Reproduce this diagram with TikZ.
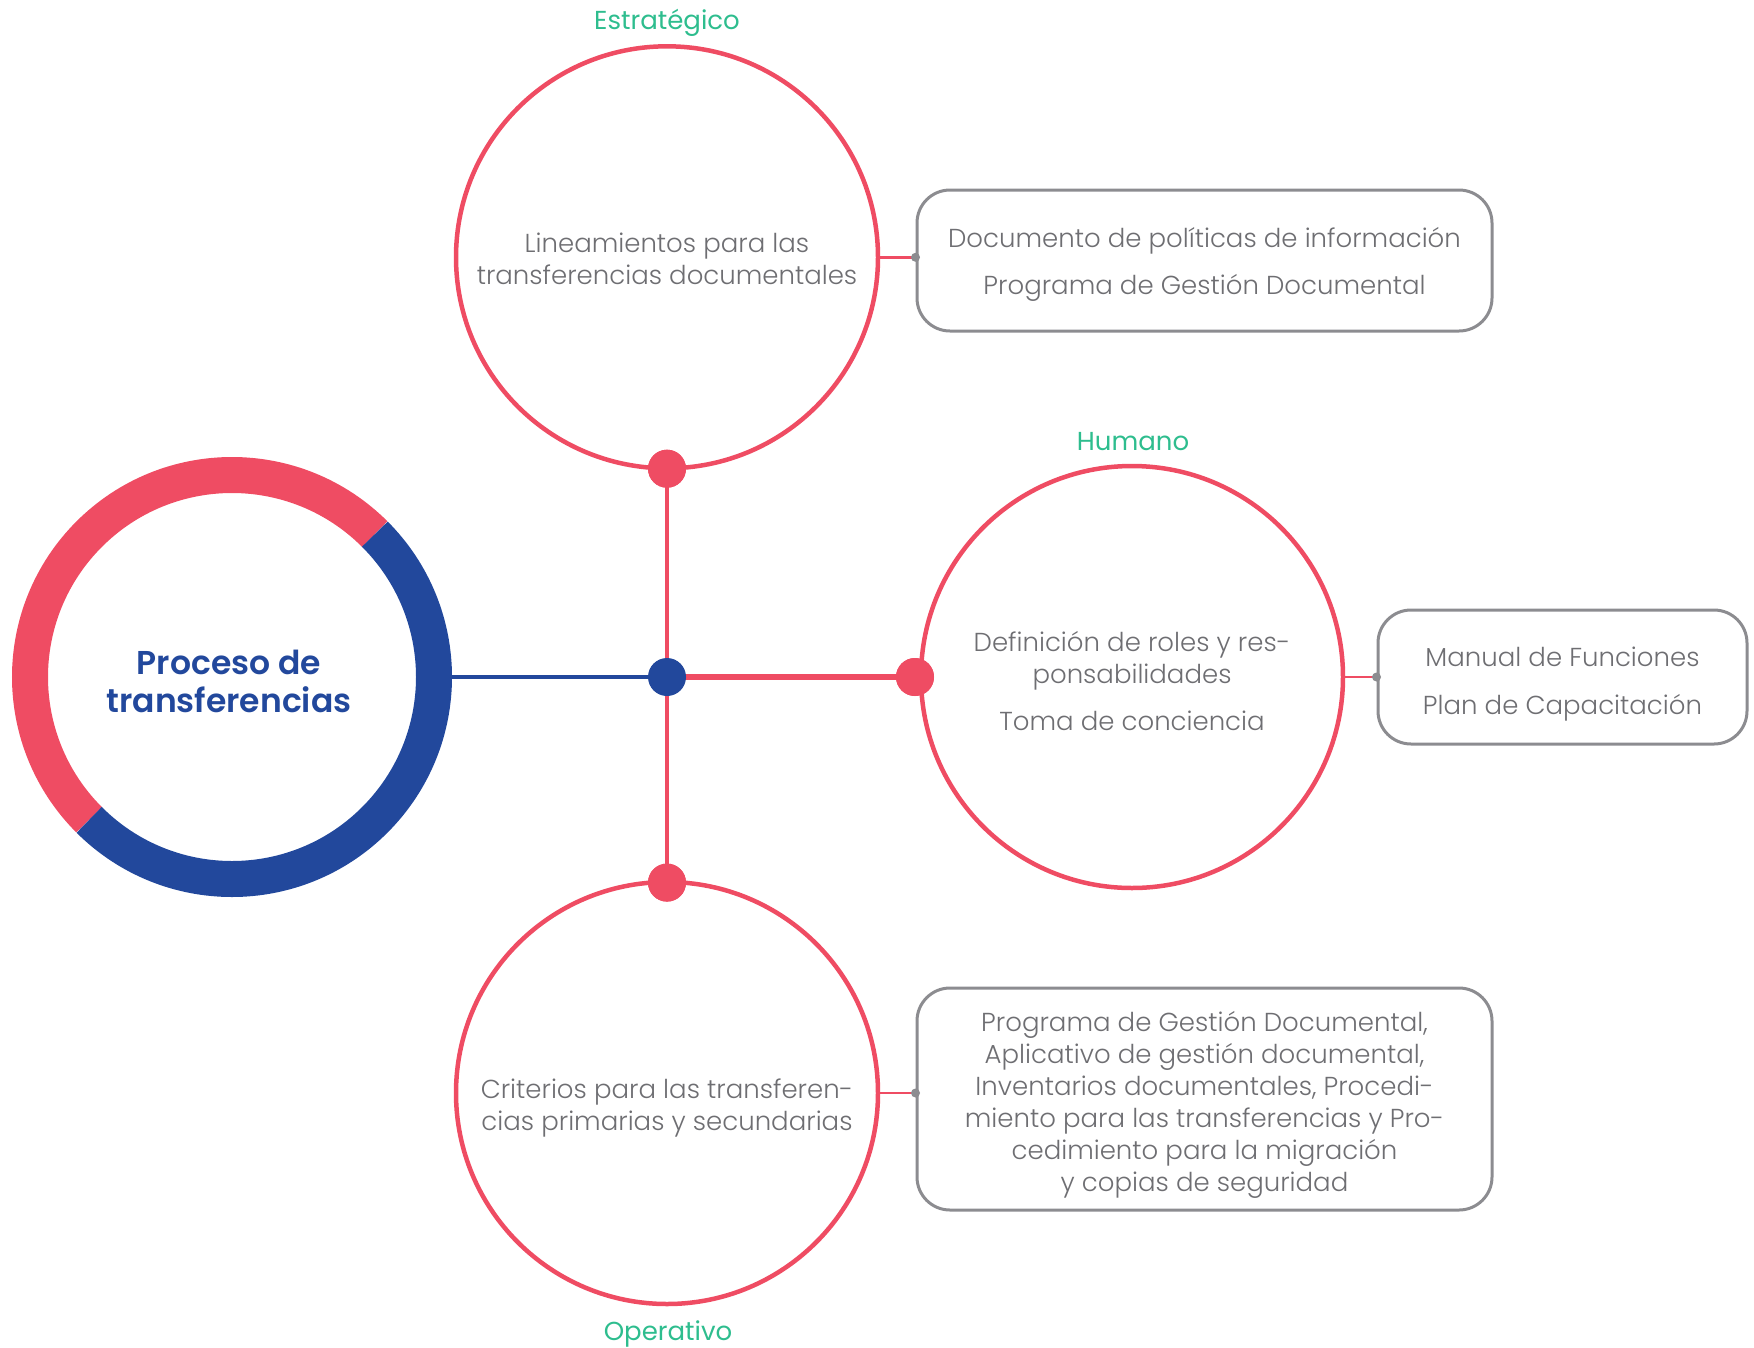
\documentclass[tikz,border=0pt]{standalone}
\usepackage{fontspec}
\setmainfont{Poppins}[UprightFont=* Light, BoldFont=* SemiBold]
\newfontfamily\tagfont{Poppins}
\begin{document}
\definecolor{ringred}{HTML}{EF4C63}
\definecolor{coreblue}{HTML}{22489C}
\definecolor{tagGreen}{HTML}{2EBD8E}
\definecolor{bodygray}{HTML}{6E6E72}
\definecolor{boxgray}{HTML}{8C8C90}
\begin{tikzpicture}[x=1pt,y=-1pt,
  areacircle/.style={circle,draw=ringred,line width=4.5pt,minimum size=422pt,inner sep=0pt},
  bodytext/.style={text=bodygray,align=center,font=\fontsize{26}{32}\selectfont,inner sep=0pt},
  tagtext/.style={text=tagGreen,font=\tagfont\fontsize{26}{30}\selectfont,inner sep=0pt},
  infobox/.style={draw=boxgray,line width=3pt,rounded corners=33pt,inner sep=0pt},
  reddot/.style={circle,fill=ringred,minimum size=38pt,inner sep=0pt},
  graydot/.style={circle,fill=boxgray,minimum size=9pt,inner sep=0pt},
  redlink/.style={draw=ringred,line width=3.4pt},
  boxlink/.style={draw=ringred,line width=2.5pt}]
\useasboundingbox (0,0) rectangle (1754,1347);

% central ring
\node[circle,minimum size=440pt,inner sep=0pt] (core) at (232,677) {};
\draw[ringred,line width=36pt] (core.center) ++(45:202pt) arc[start angle=45,end angle=225,radius=202pt];
\draw[coreblue,line width=36pt] (core.center) ++(225:202pt) arc[start angle=225,end angle=405,radius=202pt];
\node[text=coreblue,align=center,font=\bfseries\fontsize{33}{38}\selectfont] (title) at (229,681) {Proceso de\\transferencias};

% three areas
\node[areacircle] (strat) at (667,257.3) {};
\node[areacircle] (human) at (1132,677) {};
\node[areacircle] (oper) at (667,1093) {};

\node[tagtext] (tagS) at (667,23) {Estratégico};
\node[tagtext] (tagH) at (1133,442) {Humano};
\node[tagtext] (tagO) at (668,1334) {Operativo};

\node[bodytext] (txtS) at (667,258.5) {Lineamientos para las\\transferencias documentales};
\node[bodytext] (txtH) at (1132,681) {Definición de roles y res-\\ponsabilidades\\[15pt]Toma de conciencia};
\node[bodytext] (txtO) at (667,1107.5) {Criterios para las transferen-\\cias primarias y secundarias};

% hub and links
\node[reddot] (dotS) at (667,468.7) {};
\node[reddot] (dotH) at (915,677) {};
\node[reddot] (dotO) at (667,882.6) {};
\node[circle,minimum size=38pt,inner sep=0pt] (hub) at (667,677) {};
\draw[coreblue,line width=4.8pt] (core.east) -- (hub.center);
\draw[redlink] (hub.center) -- (dotS.center);
\draw[redlink] (hub.center) -- (dotO.center);
\draw[draw=ringred,line width=5.5pt] (hub.center) -- (dotH.center);
\node[reddot] at (dotS) {};
\node[reddot] at (dotH) {};
\node[reddot] at (dotO) {};
\node[circle,fill=coreblue,minimum size=38pt,inner sep=0pt] (hubdot) at (hub) {};

% resource boxes
\node[infobox,minimum width=575pt,minimum height=141pt] (boxS) at (1204.5,260.5) {};
\node[infobox,minimum width=369pt,minimum height=134pt] (boxH) at (1562.5,677) {};
\node[infobox,minimum width=575pt,minimum height=222pt] (boxO) at (1204.5,1099) {};
\node[bodytext] (listS) at (1204.5,264)
  {Documento de políticas de información\\[15pt]Programa de Gestión Documental};
\node[bodytext] (listH) at (1562.5,684)
  {Manual de Funciones\\[16pt]Plan de Capacitación};
\node[bodytext] (listO) at (1204.5,1105)
  {Programa de Gestión Documental,\\Aplicativo de gestión documental,\\Inventarios documentales, Procedi-\\miento para las transferencias y Pro-\\cedimiento para la migración\\y copias de seguridad};

\draw[boxlink] (strat.east) -- (strat.east -| boxS.west) node[graydot] (jS) {};
\draw[boxlink] (human.east) -- (human.east -| boxH.west) node[graydot] (jH) {};
\draw[boxlink] (oper.east) -- (oper.east -| boxO.west) node[graydot] (jO) {};
\end{tikzpicture}
\end{document}
